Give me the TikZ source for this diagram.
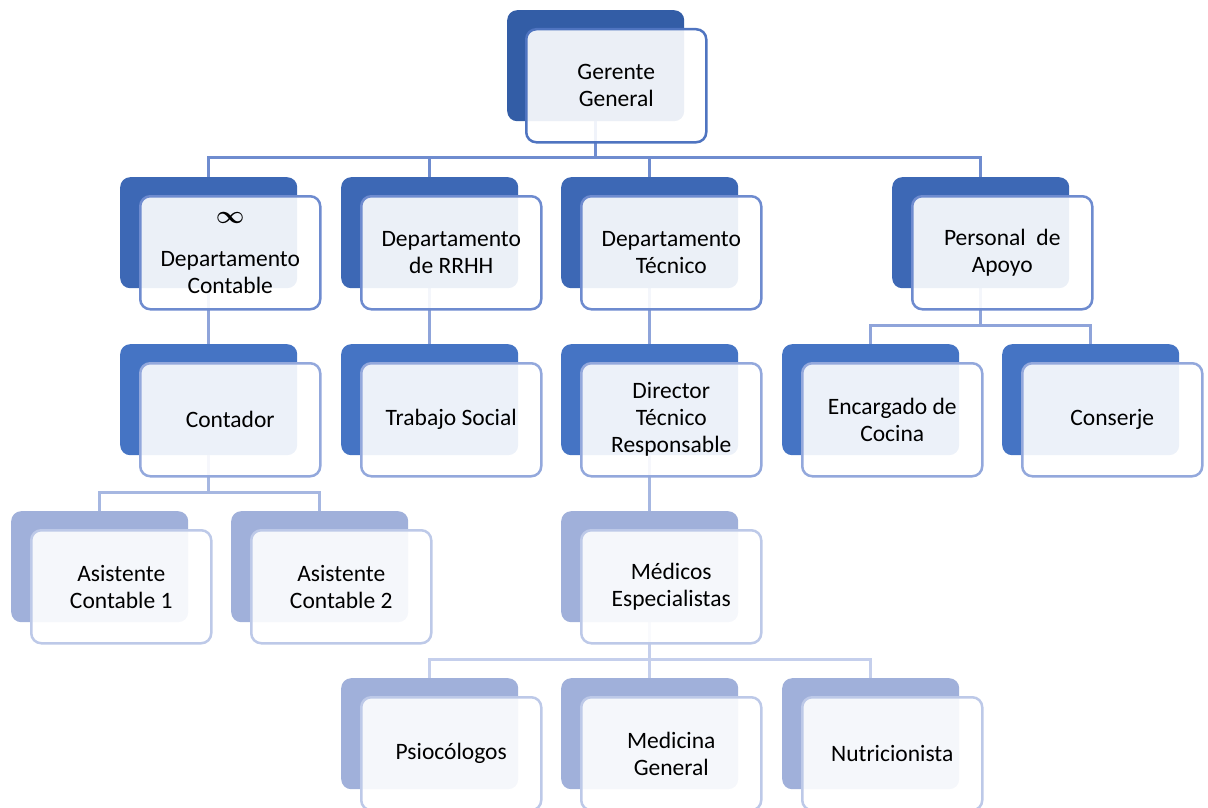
\documentclass[tikz,border=0pt]{standalone}
\usepackage{amsmath,amssymb}
\usepackage{fontspec}
\setmainfont{Carlito}
\usepackage{tikz}
\usetikzlibrary{backgrounds}
\definecolor{bk0}{RGB}{51,93,166}
\definecolor{bk1}{RGB}{61,104,181}
\definecolor{bk2}{RGB}{69,116,196}
\definecolor{bk3}{RGB}{160,176,218}
\definecolor{ln0}{RGB}{79,116,192}
\definecolor{ln1}{RGB}{110,139,207}
\definecolor{ln2}{RGB}{147,168,220}
\definecolor{ln3}{RGB}{189,201,232}
\definecolor{cx0}{RGB}{111,140,207}
\definecolor{cx1}{RGB}{143,164,218}
\definecolor{cx2}{RGB}{166,183,225}
\definecolor{cx3}{RGB}{197,207,236}

\begin{document}
\begin{tikzpicture}[x=1pt, y=-1pt,
  fondo/.style={rectangle, rounded corners=10pt, fill=#1, draw=none, anchor=north west,
                minimum width=177pt, minimum height=111pt, inner sep=0pt},
  frente/.style={rectangle, rounded corners=10pt, draw=#1, line width=2.5pt, fill=white,
                 fill opacity=0.9, text opacity=1, anchor=north west, align=center,
                 minimum width=180pt, minimum height=113pt, inner sep=2pt,
                 font=\fontsize{23.5}{27}\selectfont},
  con/.style={draw=#1, line width=2.6pt}]

\useasboundingbox (0,0) rectangle (1208,808);

% niveau 0
\node[fondo=bk0] (gg-b) at (507,10) {};
\node[frente=ln0] (gg) at (525,28) {Gerente\\ General};

% niveau 1
\node[fondo=bk1] (dc-b) at (120,177) {};
\node[frente=ln1] (dc) at (139,195) {{\fontsize{32}{32}\selectfont$\boldsymbol{\infty}$}\\[16pt] Departamento\\ Contable};
\node[fondo=bk1] (rh-b) at (341,177) {};
\node[frente=ln1] (rh) at (360,195) {Departamento\\ de RRHH};
\node[fondo=bk1] (dt-b) at (561,177) {};
\node[frente=ln1] (dt) at (580,195) {Departamento\\ Técnico};
\node[fondo=bk1] (pa-b) at (892,177) {};
\node[frente=ln1] (pa) at (911,195) {Personal~~de\\ Apoyo};

% niveau 2
\node[fondo=bk2] (ct-b) at (120,344) {};
\node[frente=ln2] (ct) at (139,362) {Contador};
\node[fondo=bk2] (ts-b) at (341,344) {};
\node[frente=ln2] (ts) at (360,362) {Trabajo Social};
\node[fondo=bk2] (dr-b) at (561,344) {};
\node[frente=ln2] (dr) at (580,362) {Director\\ Técnico\\ Responsable};
\node[fondo=bk2] (ec-b) at (782,344) {};
\node[frente=ln2] (ec) at (801,362) {Encargado de\\ Cocina};
\node[fondo=bk2] (cs-b) at (1002,344) {};
\node[frente=ln2] (cs) at (1021,362) {Conserje};

% niveau 3
\node[fondo=bk3] (a1-b) at (11,511) {};
\node[frente=ln3] (a1) at (30,529) {Asistente\\ Contable 1};
\node[fondo=bk3] (a2-b) at (231,511) {};
\node[frente=ln3] (a2) at (250,529) {Asistente\\ Contable 2};
\node[fondo=bk3] (me-b) at (561,511) {};
\node[frente=ln3] (me) at (580,529) {Médicos\\ Especialistas};

% niveau 4
\node[fondo=bk3] (ps-b) at (341,678) {};
\node[frente=ln3] (ps) at (360,696) {Psiocólogos};
\node[fondo=bk3] (mg-b) at (561,678) {};
\node[frente=ln3] (mg) at (580,696) {Medicina\\ General};
\node[fondo=bk3] (nu-b) at (782,678) {};
\node[frente=ln3] (nu) at (801,696) {Nutricionista};

% liens
\begin{scope}[on background layer]
\foreach \n in {dc,rh,dt,pa}
  \draw[con=cx0] (gg-b.south) -- ++(0,36) -| (\n-b.north);
\draw[con=cx1] (dc-b.south) -- (ct-b.north);
\draw[con=cx1] (rh-b.south) -- (ts-b.north);
\draw[con=cx1] (dt-b.south) -- (dr-b.north);
\foreach \n in {ec,cs}
  \draw[con=cx1] (pa-b.south) -- ++(0,37) -| (\n-b.north);
\foreach \n in {a1,a2}
  \draw[con=cx2] (ct-b.south) -- ++(0,37) -| (\n-b.north);
\draw[con=cx2] (dr-b.south) -- (me-b.north);
\foreach \n in {ps,mg,nu}
  \draw[con=cx3] (me-b.south) -- ++(0,37) -| (\n-b.north);
\end{scope}

\end{tikzpicture}
\end{document}
